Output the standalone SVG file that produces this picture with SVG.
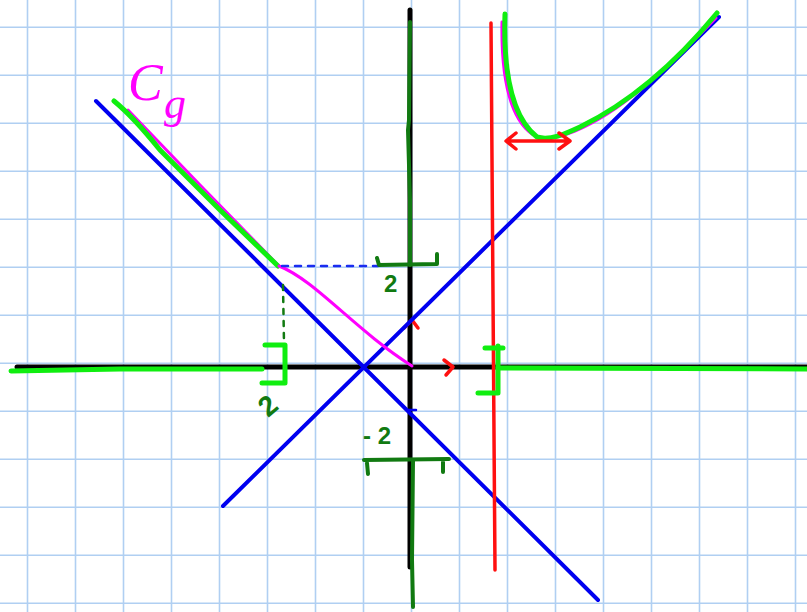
<svg xmlns="http://www.w3.org/2000/svg" width="807" height="612" viewBox="0 0 807 612">
<defs>
<style>
.grid line{stroke:#b0cff2;stroke-width:1.6}
.pen{fill:none;stroke-linecap:round;stroke-linejoin:round}
.blue{stroke:#0000f0;stroke-width:4}
.black{stroke:#000;stroke-width:5}
.lg{stroke:#10ee10;stroke-width:5}
.dg{stroke:#117a11;stroke-width:4}
.red{stroke:#ff1010;stroke-width:3.5}
.mag{stroke:#ff00ff;stroke-width:3}
.lbl{font-family:"Liberation Sans",Arial,sans-serif;fill:#117a11;font-weight:bold}
</style>
</defs>
<rect width="807" height="612" fill="#fff"/>
<g class="grid" id="grid">
<line x1="27.5" y1="0" x2="27.5" y2="612"/><line x1="75.5" y1="0" x2="75.5" y2="612"/><line x1="123.5" y1="0" x2="123.5" y2="612"/><line x1="171.5" y1="0" x2="171.5" y2="612"/><line x1="219.5" y1="0" x2="219.5" y2="612"/><line x1="267.5" y1="0" x2="267.5" y2="612"/><line x1="315.5" y1="0" x2="315.5" y2="612"/><line x1="363.5" y1="0" x2="363.5" y2="612"/><line x1="411.5" y1="0" x2="411.5" y2="612"/><line x1="459.5" y1="0" x2="459.5" y2="612"/><line x1="507.5" y1="0" x2="507.5" y2="612"/><line x1="555.5" y1="0" x2="555.5" y2="612"/><line x1="603.5" y1="0" x2="603.5" y2="612"/><line x1="651.5" y1="0" x2="651.5" y2="612"/><line x1="699.5" y1="0" x2="699.5" y2="612"/><line x1="747.5" y1="0" x2="747.5" y2="612"/><line x1="795.5" y1="0" x2="795.5" y2="612"/>
<line x1="0" y1="27.3" x2="807" y2="27.3"/><line x1="0" y1="75.3" x2="807" y2="75.3"/><line x1="0" y1="123.3" x2="807" y2="123.3"/><line x1="0" y1="171.3" x2="807" y2="171.3"/><line x1="0" y1="219.3" x2="807" y2="219.3"/><line x1="0" y1="267.3" x2="807" y2="267.3"/><line x1="0" y1="315.3" x2="807" y2="315.3"/><line x1="0" y1="363.3" x2="807" y2="363.3"/><line x1="0" y1="411.3" x2="807" y2="411.3"/><line x1="0" y1="459.3" x2="807" y2="459.3"/><line x1="0" y1="507.3" x2="807" y2="507.3"/><line x1="0" y1="555.3" x2="807" y2="555.3"/><line x1="0" y1="603.3" x2="807" y2="603.3"/>
</g>
<g id="axes">
<line class="pen black" x1="17" y1="367" x2="807" y2="367"/>
<line class="pen black" x1="410" y1="10" x2="410" y2="567"/>
<path class="pen lg" d="M11,371 L120,369 L262,369"/>
<path class="pen lg" d="M498,368 L807,369"/>
<path class="pen dg" d="M410,22 L409,120 L408,130 L410,200 L410,265"/>
<path class="pen dg" d="M413,460 L412,560 L413,607"/>
<path class="pen red" d="M404,328 L412,320 L418,328"/>
<path class="pen red" d="M444,360 L453,367 L446,375"/>
<line class="pen" stroke="#0000f0" stroke-width="2.5" x1="407" y1="410" x2="416" y2="410"/>
</g>
<g id="asymptotes">
<line class="pen blue" x1="96" y1="101" x2="598" y2="600"/>
<line class="pen blue" x1="223" y1="506" x2="719" y2="17"/>
<line class="pen red" x1="491" y1="23" x2="495" y2="570"/>
</g>
<g id="curve-right">
<path class="pen mag" d="M502,22 C501,80 510,118 532,134 C545,141 560,137 575,131 C620,112 660,75 716,18"/>
<path class="pen lg" d="M505,14 C503,75 513,118 537,137 C550,141 565,134 580,127 C625,105 670,70 717,13"/>
<path class="pen red" d="M508,141 L568,141 M516,133 L506,141 L516,149 M559,133 L570,141 L559,149"/>
</g>
<g id="curve-left">
<path class="pen mag" d="M128,110 L200,185 L278,265"/>
<path class="pen lg" d="M114,101 C125,110 140,125 160,150 L220,210 L278,266"/>
<path class="pen mag" d="M279,266 C315,280 355,330 412,366"/>
<text x="128" y="100" font-family="'Liberation Serif',serif" font-style="italic" font-size="52" fill="#ff00ff">C</text>
<text x="164" y="118" font-family="'Liberation Serif',serif" font-style="italic" font-size="44" fill="#ff00ff">g</text>
</g>
<g id="guides">
<line class="pen" stroke="#1a2cf0" stroke-width="2.5" stroke-dasharray="6,7" x1="282" y1="266" x2="378" y2="266"/>
<line class="pen" stroke="#117a11" stroke-width="2.5" stroke-dasharray="5,7" x1="283" y1="285" x2="284" y2="343"/>
</g>
<g id="ticks">
<path class="pen dg" d="M377,258 L379,265 L437,264 L437,254" stroke-width="3.5"/>
<text class="lbl" x="384" y="292" font-size="24">2</text>
<path class="pen dg" d="M364,460 L449,459 M367,463 L368,474 M443,462 L443,472" stroke-width="3.5"/>
<text class="lbl" x="363" y="444" font-size="24">- 2</text>
<path class="pen lg" d="M265,345 L285,345 L285,383 L262,383" stroke-width="4.5"/>
<text class="lbl" x="0" y="0" font-size="28" transform="translate(268,418) rotate(-40)">2</text>
<path class="pen lg" d="M485,348 L503,348 M498,346 L498,393 L478,393" stroke-width="4.5"/>
</g>
</svg>
